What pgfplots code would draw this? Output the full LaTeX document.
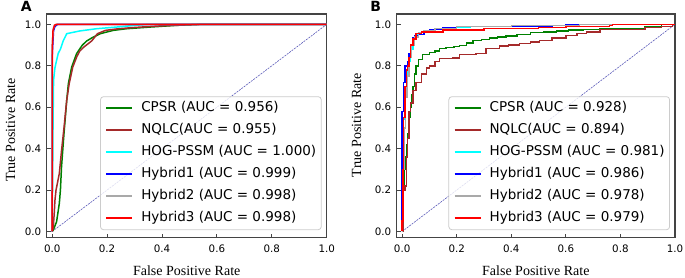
\documentclass[border=0pt]{standalone}
\usepackage{fontspec}
\setmainfont{Liberation Serif}
\newfontfamily\dejavu{DejaVu Sans}
\usepackage{pgfplots}
\pgfplotsset{compat=1.18}
\definecolor{mgreen}{HTML}{008000}
\definecolor{mbrown}{HTML}{A52A2A}
\definecolor{mcyan}{HTML}{00FFFF}
\definecolor{mblue}{HTML}{0000FF}
\definecolor{mgray}{HTML}{A9A9A9}
\definecolor{mred}{HTML}{FF0000}
\definecolor{mnavy}{HTML}{5A5AB8}
\definecolor{frm}{HTML}{444444}
\definecolor{lgd}{HTML}{CCCCCC}
\pgfplotsset{
  roc/.style={
    scale only axis, height=223.7pt,
    xmin=-0.02, xmax=1, ymin=-0.03, ymax=1.05,
    xtick={0,0.2,0.4,0.6,0.8,1}, ytick={0,0.2,0.4,0.6,0.8,1},
    tick align=inside, tick pos=left, major tick length=4pt,
    tick style={draw=frm, line width=0.8pt},
    axis line style={draw=frm, line width=1.5pt},
    /pgf/number format/assume math mode=true,
    /pgf/number format/.cd, fixed, fixed zerofill, precision=1, /pgfplots/.cd,
    tick label style={font=\dejavu\fontsize{10.3}{12}\selectfont},
    xticklabel style={yshift=-3.5pt},
    yticklabel style={xshift=-2pt},
    label style={font=\fontsize{14}{16}\selectfont},
    xlabel={False Positive Rate}, ylabel={True Positive Rate},
    xlabel style={at={(axis description cs:0.5,-0.167)}, anchor=base},
    legend cell align=left,
    legend image code/.code={\draw[#1, line width=1.8pt] (0pt,0pt) -- (26pt,0pt);},
    legend style={at={(0.982,0.034)}, anchor=south east,
      draw=lgd, line width=0.8pt, rounded corners=3pt,
      fill=white, fill opacity=0.8, text opacity=1, draw opacity=1,
      inner sep=5pt, row sep=9pt, column sep=8pt,
      font=\dejavu\fontsize{13.5}{16}\selectfont,
      nodes={inner sep=0pt, text height=10pt, text depth=3pt}},
    every axis plot/.append style={line width=1.5pt},
  }
}
\begin{document}
\begin{tikzpicture}
\path[use as bounding box] (0pt,0pt) rectangle (685pt,278pt);
\node[font=\dejavu\bfseries\fontsize{14}{16}\selectfont, inner sep=0pt] at (26.2pt,271.3pt) {A};
\node[font=\dejavu\bfseries\fontsize{14}{16}\selectfont, inner sep=0pt] at (375.8pt,271.3pt) {B};
\begin{axis}[roc, width=280pt, at={(46.7pt,40.3pt)}, anchor=south west,
  ylabel style={at={(axis description cs:-0.113,0.481)}, anchor=base}]
\addplot[forget plot, mnavy, line width=0.6pt, dash pattern=on 2pt off 1pt] coordinates {(0,0) (1,1)};
\addplot[mgreen] coordinates {(0,0) (0.004,0.007) (0.016,0.047) (0.022,0.10) (0.026,0.136) (0.03,0.2) (0.034,0.312) (0.043,0.473) (0.053,0.634) (0.059,0.714) (0.071,0.794) (0.089,0.859) (0.11,0.9) (0.126,0.92) (0.145,0.935) (0.175,0.955) (0.223,0.971) (0.272,0.979) (0.357,0.987) (0.45,0.995) (0.54,1) (1,1)};
\addlegendentry{CPSR (AUC = 0.956)}
\addplot[mbrown] coordinates {(0,0) (0.004,0.02) (0.008,0.1) (0.01,0.15) (0.014,0.2) (0.02,0.24) (0.026,0.28) (0.034,0.39) (0.043,0.50) (0.053,0.634) (0.062,0.714) (0.075,0.794) (0.09,0.845) (0.1,0.87) (0.115,0.89) (0.144,0.92) (0.15,0.93) (0.165,0.955) (0.194,0.971) (0.243,0.979) (0.3,0.985) (0.4,0.993) (0.55,1) (1,1)};
\addlegendentry{NQLC(AUC = 0.955)}
\addplot[mcyan] coordinates {(0,0) (0.003,0.5) (0.005,0.73) (0.01,0.79) (0.015,0.82) (0.022,0.86) (0.03,0.88) (0.04,0.92) (0.053,0.955) (0.1,0.968) (0.162,0.979) (0.235,0.987) (0.3,0.995) (0.35,1) (1,1)};
\addlegendentry{HOG-PSSM (AUC = 1.000)}
\addplot[mblue] coordinates {(0,0) (0,0.85) (0.002,0.9) (0.005,0.97) (0.01,0.99) (0.02,1) (1,1)};
\addlegendentry{Hybrid1 (AUC = 0.999)}
\addplot[mgray] coordinates {(0,0) (0,0.9) (0.004,0.98) (0.01,0.997) (0.015,1) (1,1)};
\addlegendentry{Hybrid2 (AUC = 0.998)}
\addplot[mred] coordinates {(0,0) (0.001,0.9) (0.003,0.97) (0.008,0.995) (0.015,1) (1,1)};
\addlegendentry{Hybrid3 (AUC = 0.998)}
\end{axis}
\begin{axis}[roc, width=278.3pt, at={(396.7pt,40.3pt)}, anchor=south west,
  ylabel style={at={(axis description cs:-0.128,0.503)}, anchor=base}]
\addplot[forget plot, mnavy, line width=0.6pt, dash pattern=on 2pt off 1pt] coordinates {(0,0) (1,1)};
\addplot[mgreen, const plot] coordinates {(0,0) (0.002,0.05) (0.004,0.2) (0.008,0.30) (0.012,0.36) (0.015,0.42) (0.02,0.47) (0.025,0.55) (0.03,0.6) (0.035,0.66) (0.04,0.70) (0.045,0.76) (0.05,0.80) (0.06,0.83) (0.075,0.855) (0.1,0.865) (0.12,0.872) (0.137,0.883) (0.16,0.888) (0.19,0.893) (0.21,0.899) (0.235,0.91) (0.26,0.923) (0.29,0.928) (0.32,0.935) (0.35,0.94) (0.38,0.944) (0.42,0.95) (0.47,0.96) (0.52,0.964) (0.566,0.968) (0.61,0.972) (0.663,0.976) (0.725,0.979) (0.884,0.979) (0.89,0.99) (0.94,0.99) (0.95,1) (1,1)};
\addlegendentry{CPSR (AUC = 0.928)}
\addplot[mbrown, const plot] coordinates {(0,0) (0.003,0.05) (0.005,0.2) (0.01,0.22) (0.015,0.36) (0.02,0.45) (0.025,0.58) (0.03,0.62) (0.04,0.68) (0.05,0.72) (0.07,0.76) (0.09,0.79) (0.1,0.80) (0.12,0.82) (0.137,0.835) (0.186,0.838) (0.21,0.854) (0.27,0.859) (0.308,0.883) (0.357,0.895) (0.39,0.9) (0.43,0.907) (0.47,0.915) (0.504,0.923) (0.55,0.935) (0.6,0.947) (0.64,0.955) (0.676,0.963) (0.725,0.976) (0.884,0.976) (0.89,0.985) (0.95,0.99) (0.99,1) (1,1)};
\addlegendentry{NQLC(AUC = 0.894)}
\addplot[mcyan, const plot] coordinates {(0,0) (0,0.3) (0.002,0.41) (0.005,0.54) (0.01,0.68) (0.015,0.76) (0.02,0.82) (0.03,0.88) (0.04,0.93) (0.05,0.95) (0.07,0.965) (0.1,0.975) (0.15,0.985) (0.25,0.99) (0.5,0.995) (0.6,1) (1,1)};
\addlegendentry{HOG-PSSM (AUC = 0.981)}
\addplot[mblue, const plot] coordinates {(0,0) (0,0.58) (0.005,0.6) (0.005,0.72) (0.01,0.75) (0.01,0.8) (0.02,0.82) (0.025,0.86) (0.03,0.88) (0.035,0.9) (0.04,0.935) (0.045,0.945) (0.06,0.95) (0.08,0.965) (0.1,0.975) (0.15,0.985) (0.2,0.99) (0.55,0.995) (0.6,1) (1,1)};
\addlegendentry{Hybrid1 (AUC = 0.986)}
\addplot[mgray, const plot] coordinates {(0,0) (0.002,0.3) (0.006,0.5) (0.012,0.65) (0.018,0.75) (0.025,0.84) (0.035,0.9) (0.045,0.94) (0.06,0.96) (0.08,0.97) (0.12,0.98) (0.2,0.99) (0.4,0.995) (0.65,1) (1,1)};
\addlegendentry{Hybrid2 (AUC = 0.978)}
\addplot[mred, const plot] coordinates {(0,0) (0,0.05) (0.003,0.3) (0.005,0.55) (0.01,0.7) (0.015,0.78) (0.02,0.8) (0.025,0.84) (0.03,0.9) (0.04,0.93) (0.05,0.955) (0.07,0.963) (0.15,0.972) (0.3,0.98) (0.5,0.985) (0.6,0.99) (0.76,0.995) (0.77,1) (1,1)};
\addlegendentry{Hybrid3 (AUC = 0.979)}
\end{axis}
\end{tikzpicture}
\end{document}
